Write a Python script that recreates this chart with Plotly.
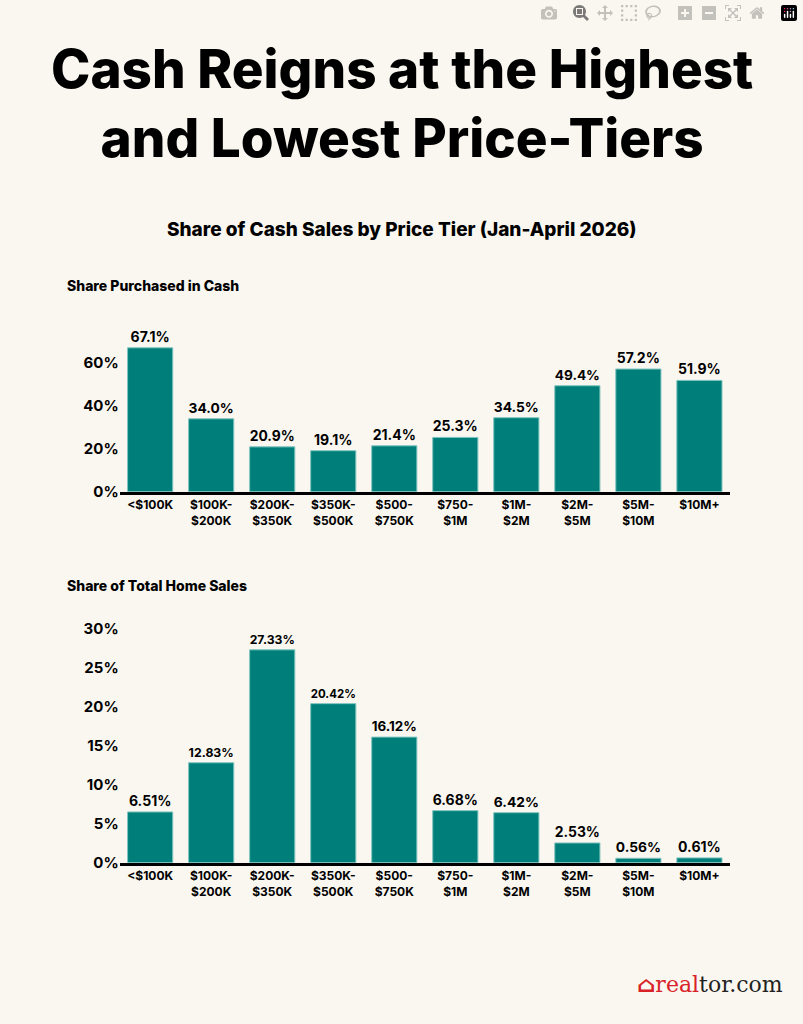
import plotly.graph_objects as go

tiers = ["<$100K", "$100K-<br>$200K", "$200K-<br>$350K", "$350K-<br>$500K", "$500-<br>$750K",
         "$750-<br>$1M", "$1M-<br>$2M", "$2M-<br>$5M", "$5M-<br>$10M", "$10M+"]
cash_share = [67.1, 34.0, 20.9, 19.1, 21.4, 25.3, 34.5, 49.4, 57.2, 51.9]
sales_share = [6.51, 12.83, 27.33, 20.42, 16.12, 6.68, 6.42, 2.53, 0.56, 0.61]
cash_ticks = [0, 20, 40, 60]
sales_ticks = [0, 5, 10, 15, 20, 25, 30]

teal = "#007f7a"
bg = "#faf7f0"
font = "Inter"

fig = go.Figure()
fig.add_trace(go.Bar(x=tiers, y=cash_share, marker=dict(color=teal, line=dict(color="#7fc4bf", width=1)),
                     text=[f"{v:.1f}%" for v in cash_share], textposition="outside",
                     textfont=dict(size=14, color="black", family=font, weight=700),
                     cliponaxis=False, xaxis="x", yaxis="y"))
fig.add_trace(go.Bar(x=tiers, y=sales_share, marker=dict(color=teal, line=dict(color="#7fc4bf", width=1)),
                     text=[f"{v:.2f}%" for v in sales_share], textposition="outside",
                     textfont=dict(size=14, color="black", family=font, weight=700),
                     cliponaxis=False, xaxis="x2", yaxis="y2"))

xcommon = dict(domain=[0.149, 0.909], showline=True, linecolor="black", linewidth=3,
               ticks="", tickfont=dict(size=12, family=font, weight=700, color="black"), fixedrange=True)
ycommon = dict(showgrid=False, zeroline=False, ticks="",
               tickfont=dict(size=15, family=font, weight=700, color="black"))

fig.update_layout(
    width=803, height=1024, margin=dict(l=0, r=0, t=0, b=0),
    paper_bgcolor=bg, plot_bgcolor=bg, showlegend=False, bargap=0.26,
    xaxis=dict(**xcommon, anchor="y"),
    yaxis=dict(**ycommon, domain=[0.5166, 0.669], range=[0, 72], tickvals=cash_ticks,
               ticktext=[f"{t}%" for t in cash_ticks]),
    xaxis2=dict(**xcommon, anchor="y2"),
    yaxis2=dict(**ycommon, domain=[0.1504, 0.3887], range=[0, 31], tickvals=sales_ticks,
                ticktext=[f"{t}%" for t in sales_ticks]),
    font=dict(family=font, color="black"),
)

anns = [
    dict(text="Cash Reigns at the Highest<br>and Lowest Price-Tiers", x=0.5, y=1 - 103 / 1024,
         font=dict(size=53, weight=800), yanchor="middle"),
    dict(text="Share of Cash Sales by Price Tier (Jan-April 2026)", x=0.5, y=1 - 230 / 1024,
         font=dict(size=19, weight=800), yanchor="middle"),
    dict(text="Share Purchased in Cash", x=65 / 803, y=1 - 287 / 1024, xanchor="left",
         font=dict(size=14, weight=800), yanchor="middle"),
    dict(text="Share of Total Home Sales", x=65 / 803, y=1 - 590 / 1024, xanchor="left",
         font=dict(size=14, weight=800), yanchor="middle"),
    dict(text="<span style='color:#d92228'><b>&#8962;</b>real</span>tor.com", x=785 / 803, y=1 - 993 / 1024,
         xanchor="right", yanchor="middle", font=dict(size=22, family="DejaVu Serif", color="#222")),
]
for a in anns:
    a.setdefault("xanchor", "center")
    fig.add_annotation(xref="paper", yref="paper", showarrow=False, **a)

fig.write_html("out.html", post_script="document.body.style.margin='0';")
